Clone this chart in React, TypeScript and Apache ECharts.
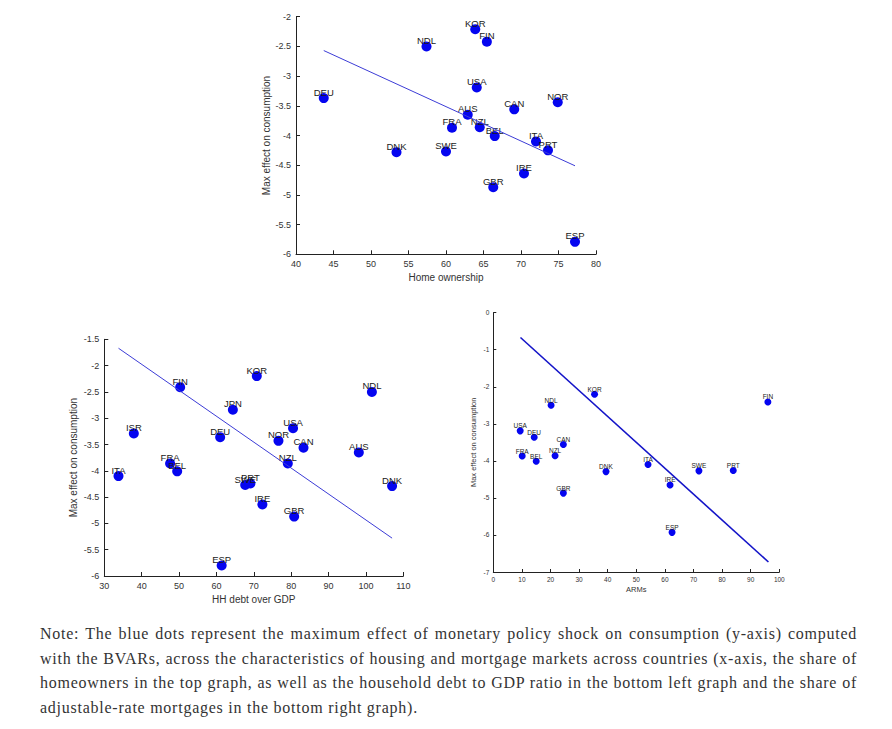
import React, { useEffect, useRef } from "react";
import * as echarts from "echarts";

// ---- Top graph: home ownership ----
const countriesTop = ["KOR", "FIN", "NDL", "USA", "DEU", "NOR", "CAN", "AUS", "FRA", "NZL", "BEL", "ITA", "PRT", "DNK", "SWE", "IRE", "GBR", "ESP"];
const homeOwnership = [63.9, 65.45, 57.4, 64.1, 43.7, 74.9, 69.1, 62.9, 60.8, 64.5, 66.5, 72.0, 73.6, 53.4, 60.0, 70.4, 66.3, 77.2];
const effectTop = [-2.21, -2.42, -2.5, -3.19, -3.37, -3.44, -3.56, -3.65, -3.87, -3.86, -4.01, -4.1, -4.25, -4.28, -4.27, -4.64, -4.87, -5.79];
const fitTopX = [43.7, 77.2];
const fitTopY = [-2.57, -4.51];

// ---- Bottom left: household debt over GDP ----
const countriesDebt = ["KOR", "FIN", "NDL", "JPN", "ISR", "DEU", "USA", "NOR", "CAN", "AUS", "NZL", "FRA", "BEL", "ITA", "SWE", "PRT", "IRE", "GBR", "DNK", "ESP"];
const hhDebt = [70.8, 50.3, 101.6, 64.4, 37.9, 61.0, 80.5, 76.6, 83.3, 98.1, 79.1, 47.6, 49.5, 33.8, 67.7, 69.1, 72.3, 80.8, 107.0, 61.4];
const effectDebt = [-2.2, -2.41, -2.5, -2.84, -3.29, -3.36, -3.19, -3.43, -3.56, -3.65, -3.86, -3.86, -4.01, -4.1, -4.27, -4.24, -4.64, -4.87, -4.29, -5.8];
const fitDebtX = [33.8, 107.0];
const fitDebtY = [-1.67, -5.28];

// ---- Bottom right: adjustable-rate mortgages ----
const countriesArm = ["KOR", "NDL", "FIN", "USA", "DEU", "CAN", "FRA", "NZL", "BEL", "DNK", "ITA", "SWE", "PRT", "IRE", "GBR", "ESP"];
const arms = [35.4, 20.2, 96.0, 9.4, 14.3, 24.5, 10.1, 21.6, 15.0, 39.4, 54.1, 71.9, 83.9, 61.8, 24.5, 62.5];
const effectArm = [-2.2, -2.5, -2.41, -3.19, -3.36, -3.56, -3.87, -3.86, -4.01, -4.29, -4.1, -4.27, -4.26, -4.65, -4.87, -5.93];
const fitArmX = [9.5, 96.2];
const fitArmY = [-0.67, -6.73];

const noteLines = [
  "Note: The blue dots represent the maximum effect of monetary policy shock on consumption (y-axis) computed",
  "with the BVARs, across the characteristics of housing and mortgage markets across countries (x-axis, the share of",
  "homeowners in the top graph, as well as the household debt to GDP ratio in the bottom left graph and the share of",
  "adjustable-rate mortgages in the bottom right graph).",
];

const FONT = "Liberation Sans, Arial, sans-serif";

function pts(xs: number[], ys: number[], names?: string[]) {
  return xs.map((x, i) => (names ? { value: [x, ys[i]], name: names[i] } : [x, ys[i]]));
}

function axisStyle(fs: number, tick: number, margin: number) {
  return {
    axisLine: { show: true, onZero: false, lineStyle: { color: "#222", width: 1 } },
    axisTick: { show: true, inside: true, length: tick, lineStyle: { color: "#222" } },
    axisLabel: { color: "#333", fontSize: fs, fontFamily: FONT, margin },
    splitLine: { show: false },
    nameLocation: "middle" as const,
    nameTextStyle: { color: "#333", fontSize: fs + 1, fontFamily: FONT },
  };
}

export default function App() {
  const ref = useRef<HTMLDivElement>(null);
  useEffect(() => {
    if (!ref.current) return;
    const chart = echarts.init(ref.current, undefined, { renderer: "svg" });
    const dotLabel = (fs: number, dy: number) => ({
      show: true,
      position: "inside" as const,
      offset: [0, dy],
      formatter: (p: any) => p.name,
      color: "#1a1a1a",
      fontSize: fs,
      fontFamily: FONT,
    });
    const dotStyle = { color: "#0505f0", opacity: 1 };
    chart.setOption({
      animation: false,
      grid: [
        { left: 296, top: 16.7, width: 300, height: 237.6 },
        { left: 104.3, top: 339.3, width: 299, height: 236.7 },
        { left: 493.3, top: 312.7, width: 286, height: 259.3 },
      ],
      xAxis: [
        { gridIndex: 0, type: "value", min: 40, max: 80, interval: 5, name: "Home ownership", nameGap: 18, ...axisStyle(9, 4, 5) },
        { gridIndex: 1, type: "value", min: 30, max: 110, interval: 10, name: "HH debt over GDP", nameGap: 18, ...axisStyle(9, 4, 5) },
        { gridIndex: 2, type: "value", min: 0, max: 100, interval: 10, name: "ARMs", nameGap: 13, ...axisStyle(6.5, 3, 4) },
      ],
      yAxis: [
        { gridIndex: 0, type: "value", min: -6, max: -2, interval: 0.5, name: "Max effect on consumption", nameGap: 24, ...axisStyle(9, 4, 5) },
        { gridIndex: 1, type: "value", min: -6, max: -1.5, interval: 0.5, name: "Max effect on consumption", nameGap: 26, ...axisStyle(9, 4, 5) },
        { gridIndex: 2, type: "value", min: -7, max: 0, interval: 1, name: "Max effect on consumption", nameGap: 16, ...axisStyle(6.5, 3, 4) },
      ],
      series: [
        {
          type: "line", xAxisIndex: 0, yAxisIndex: 0, data: pts(fitTopX, fitTopY), symbol: "none",
          lineStyle: { color: "#3c3cd6", width: 1 }, silent: true,
        },
        {
          type: "scatter", xAxisIndex: 0, yAxisIndex: 0, data: pts(homeOwnership, effectTop, countriesTop),
          symbolSize: 10, itemStyle: dotStyle, label: dotLabel(9.5, -6),
        },
        {
          type: "line", xAxisIndex: 1, yAxisIndex: 1, data: pts(fitDebtX, fitDebtY), symbol: "none",
          lineStyle: { color: "#3c3cd6", width: 1 }, silent: true,
        },
        {
          type: "scatter", xAxisIndex: 1, yAxisIndex: 1, data: pts(hhDebt, effectDebt, countriesDebt),
          symbolSize: 10, itemStyle: dotStyle, label: dotLabel(9.5, -6),
        },
        {
          type: "line", xAxisIndex: 2, yAxisIndex: 2, data: pts(fitArmX, fitArmY), symbol: "none",
          lineStyle: { color: "#1414c8", width: 1.6 }, silent: true,
        },
        {
          type: "scatter", xAxisIndex: 2, yAxisIndex: 2, data: pts(arms, effectArm, countriesArm),
          symbolSize: 7, itemStyle: dotStyle, label: dotLabel(6.5, -5),
        },
      ],
    });
    return () => chart.dispose();
  }, []);

  return (
    <div style={{ position: "absolute", left: 0, top: 0, width: 892, height: 729, background: "#fff" }}>
      <div ref={ref} style={{ position: "absolute", left: 0, top: 0, width: 892, height: 610 }} />
      <div
        style={{
          position: "absolute",
          left: 40,
          top: 622,
          fontFamily: "Liberation Serif, Times New Roman, serif",
          fontSize: 16,
          lineHeight: "24.6px",
          letterSpacing: "0.75px",
          color: "#333",
          whiteSpace: "nowrap",
        }}
      >
        {noteLines.map((l, i) => (
          <div
            key={i}
            style={i < noteLines.length - 1 ? { width: 817, textAlign: "justify", textAlignLast: "justify" } : undefined}
          >
            {l}
          </div>
        ))}
      </div>
    </div>
  );
}
